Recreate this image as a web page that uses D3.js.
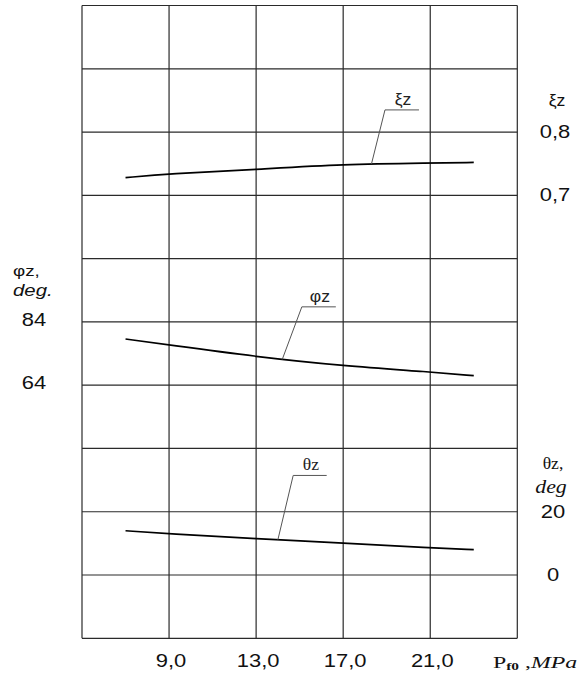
<!DOCTYPE html>
<html>
<head>
<meta charset="utf-8">
<script src="https://cdn.jsdelivr.net/npm/d3@7"></script>
<style>
  html, body { margin: 0; padding: 0; background: #fff; }
  svg { display: block; }
</style>
</head>
<body>
<div id="chart"></div>
<script>
// values
var pressure = [7, 9, 13, 17, 21, 23];          // P_f0, MPa
var xiZ      = [0.728, 0.734, 0.741, 0.749, 0.751, 0.752];
var phiZ     = [78.6, 76.7, 73.0, 70.1, 68.2, 67.0];   // deg
var thetaZ   = [14.0, 13.0, 11.5, 10.1, 8.6, 8.0];     // deg

var xGrid   = [5, 9, 13, 17, 21, 25];
var xTicks  = [9, 13, 17, 21];
var xiTicks = [0.8, 0.7];
var phiTicks = [84, 64];
var thetaTicks = [20, 0];

var width = 586, height = 675;

var svg = d3.select("#chart").append("svg")
    .attr("width", width)
    .attr("height", height);

var x = d3.scaleLinear().domain([5, 25]).range([82, 517.3]);
// the frame is 10 equal rows, each series lives on its own rows
var row = d3.scaleLinear().domain([0, 10]).range([5.5, 638.3]);
var yXi = d3.scaleLinear().domain([0.8, 0.7]).range([row(2), row(3)]);
var yPhi = d3.scaleLinear().domain([84, 64]).range([row(5), row(6)]);
var yTheta = d3.scaleLinear().domain([20, 0]).range([row(8), row(9)]);

var comma = d3.formatLocale({decimal: ",", thousands: " ", grouping: [3], currency: ["", ""]});
var f1 = comma.format(".1f");

// grid
var grid = svg.append("g").attr("stroke", "#2a2a2a").attr("stroke-width", 1.2).attr("fill", "none");
grid.selectAll("line.v").data(xGrid).join("line")
    .attr("class", "v")
    .attr("x1", d => x(d)).attr("x2", d => x(d))
    .attr("y1", row(0)).attr("y2", row(10));
grid.selectAll("line.h").data(d3.range(0, 11)).join("line")
    .attr("class", "h")
    .attr("x1", x(5)).attr("x2", x(25))
    .attr("y1", d => row(d)).attr("y2", d => row(d));

// stretched text helper (the original lettering is wide)
function label(g, px, py, sx, anchor) {
  return g.append("text")
    .attr("transform", `translate(${px},${py}) scale(${sx},1)`)
    .attr("text-anchor", anchor || "start");
}

var sans = "'Liberation Sans', Arial, sans-serif";
var serif = "'Liberation Serif', 'Times New Roman', serif";

// bottom tick labels
var bottom = svg.append("g").attr("font-family", sans).attr("font-size", 18).attr("fill", "#111");
xTicks.forEach(v => label(bottom, x(v) + 2, 667, 1.22, "middle").text(f1(v)));

// x title
var xt = label(svg, 493, 668, 1.4).attr("font-family", serif).attr("fill", "#111");
xt.append("tspan").attr("font-size", 17).text("P");
xt.append("tspan").attr("font-size", 11).attr("font-weight", "bold").attr("dy", 2).text("f0");
xt.append("tspan").attr("font-size", 17).attr("dy", -2).text(" ,");
xt.append("tspan").attr("font-size", 17).attr("font-style", "italic").text("MPa");

// right axis labels
var right = svg.append("g").attr("font-family", sans).attr("font-size", 18).attr("fill", "#111");
xiTicks.forEach(v => label(right, 555, yXi(v) + 6, 1.22, "middle").text(f1(v)));
thetaTicks.forEach(v => label(right, 553, yTheta(v) + 6, 1.22, "middle").text(v));
label(right, 557, 106, 1.1, "middle").attr("font-size", 16).text("ξz");
label(right, 553, 469, 1.1, "middle").attr("font-family", serif).attr("font-size", 16).text("θz,");
label(right, 551, 493, 1.15, "middle").attr("font-family", serif).attr("font-size", 19)
    .attr("font-style", "italic").text("deg");

// left axis labels
var left = svg.append("g").attr("font-family", sans).attr("font-size", 18).attr("fill", "#111");
phiTicks.forEach(v => label(left, 34, yPhi(v) + 4, 1.22, "middle").text(v));
label(left, 13, 276, 1.25).attr("font-size", 15).text("φz,");
label(left, 13, 296, 1.2).attr("font-size", 17).attr("font-style", "italic").text("deg.");

// curves
var series = [
  {name: "ξz", values: xiZ, y: yXi, at: 18.3, dx: 13.5, dy: -54, len: 34, serif: false},
  {name: "φz", values: phiZ, y: yPhi, at: 14.2, dx: 19.6, dy: -52.6, len: 34, serif: false},
  {name: "θz", values: thetaZ, y: yTheta, at: 14.0, dx: 15.3, dy: -64.3, len: 33.5, serif: true}
];

series.forEach(s => {
  var pts = pressure.map((p, i) => [p, s.values[i]]);
  var line = d3.line()
      .x(d => x(d[0]))
      .y(d => s.y(d[1]))
      .curve(d3.curveBasis);
  svg.append("path")
      .datum(pts)
      .attr("fill", "none")
      .attr("stroke", "#000")
      .attr("stroke-width", 1.7)
      .attr("d", line);

  // leader with label
  var v = d3.scaleLinear().domain(pressure).range(s.values)(s.at);
  var ax = x(s.at), ay = s.y(v);
  var ex = ax + s.dx, ey = ay + s.dy;
  svg.append("path")
      .attr("fill", "none")
      .attr("stroke", "#555")
      .attr("stroke-width", 1)
      .attr("d", d3.line()([[ax, ay], [ex, ey], [ex + s.len, ey]]));
  label(svg, ex + s.len / 2 + 1, ey - 5, 1.1, "middle")
      .attr("font-family", s.serif ? serif : sans)
      .attr("font-size", 16)
      .attr("fill", "#222")
      .text(s.name);
});
</script>
</body>
</html>
